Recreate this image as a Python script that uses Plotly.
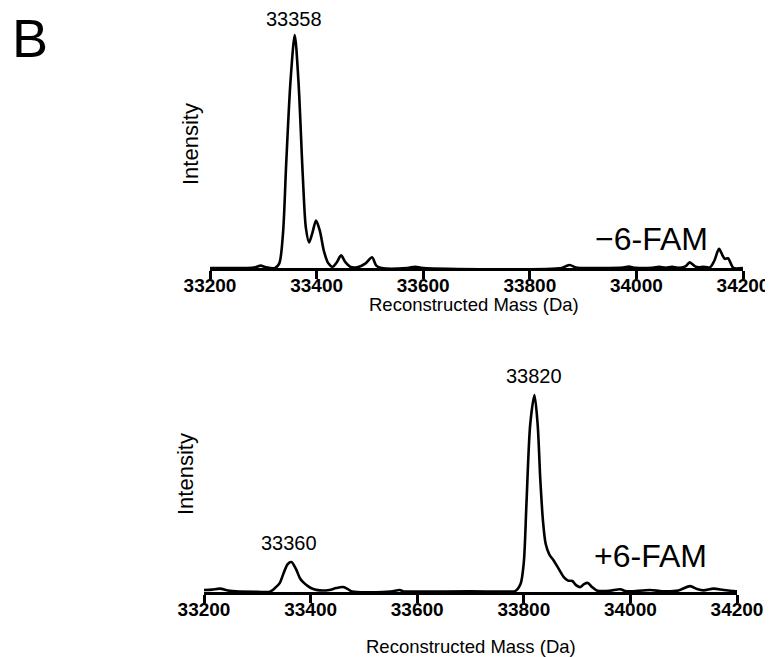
import plotly.graph_objects as go

# ---------------- data ----------------
mass_minus = [33200, 33270, 33285, 33295, 33305, 33322, 33330, 33337, 33343, 33351,
              33359, 33366, 33374, 33380, 33386, 33392, 33399, 33406, 33414, 33422,
              33430, 33438, 33446, 33454, 33464, 33476, 33492, 33504, 33512, 33522,
              33570, 33585, 33600, 33860, 33868, 33875, 33885, 33895, 33975, 33986,
              33998, 34030, 34043, 34055, 34067, 34078, 34092, 34100, 34110, 34118,
              34125, 34138, 34146, 34155, 34162, 34166, 34172, 34177, 34182, 34200]
int_minus = [0, 0, 0.3, 1.0, 0.3, 0, 2, 15, 45, 80,
             100, 80, 40, 17, 11, 15, 20.4, 16, 7, 2,
             0.5, 2.5, 5.4, 2.5, 0.4, 0.3, 2, 4.6, 1, 0,
             0, 0.5, 0, 0, 0.8, 1.3, 0.3, 0, 0.2, 0.6,
             0.1, 0.1, 0.5, 0.1, 0.5, 0.1, 0.7, 2.4, 0.7, 0.3,
             0.5, 0.3, 3, 8.2, 5.2, 3.9, 4.2, 2, 0, 0]

mass_plus = [33200, 33215, 33230, 33245, 33260, 33300, 33324, 33335, 33342, 33350,
             33357, 33364, 33372, 33380, 33386, 33395, 33405, 33417, 33435, 33448,
             33461, 33470, 33478, 33550, 33567, 33575, 33600, 33700, 33770, 33784,
             33794, 33800, 33805, 33812, 33820, 33826, 33831, 33836, 33841, 33848,
             33856, 33865, 33875, 33883, 33891, 33898, 33906, 33913, 33920, 33928,
             33937, 33960, 33981, 33990, 34000, 34037, 34060, 34090, 34112, 34125,
             34137, 34156, 34175, 34194, 34200]
int_plus = [1.0, 1.2, 1.7, 0.8, 0.3, 0.1, 0.2, 2.5, 4.5, 10,
            14.2, 15.2, 12, 7, 5, 3, 1.5, 0.8, 1, 2,
            2.5, 1.5, 0.2, 0.2, 1, 0.3, 0.2, 0.3, 0.2, 0.5,
            4.2, 15, 45, 85, 100, 85, 57, 36, 24.5, 19,
            16, 12, 7.6, 5.8, 5.6, 3.5, 2.5, 4, 4.6, 2.5,
            0.8, 0.6, 1.4, 0.5, 0.3, 1, 0.4, 0.8, 3, 1.5,
            0.8, 1.7, 1, 0.5, 0.3]

tick_vals = [33200, 33400, 33600, 33800, 34000, 34200]
tick_text = ["33200", "33400", "33600", "33800", "34000", "34200"]

peak_labels_top = [("33358", 33358, 100)]
peak_labels_bottom = [("33360", 33360, 15.2), ("33820", 33820, 100)]

# ---------------- figure ----------------
OFF = 8            # page body margin of the browser
W, H = 773 - OFF, 657 - OFF
FONT = "Liberation Sans, Arial, Helvetica, sans-serif"


def px_x(p):
    return (p - OFF) / W


def px_y(p):
    return 1 - (p - OFF) / H


fig = go.Figure()
fig.add_trace(go.Scatter(x=mass_minus, y=int_minus, mode="lines",
                         line=dict(color="black", width=2.6, shape="spline", smoothing=0.8),
                         xaxis="x", yaxis="y", showlegend=False, hoverinfo="skip"))
fig.add_trace(go.Scatter(x=mass_plus, y=int_plus, mode="lines",
                         line=dict(color="black", width=2.6, shape="spline", smoothing=0.8),
                         xaxis="x2", yaxis="y2", showlegend=False, hoverinfo="skip"))

xcommon = dict(range=[33200, 34200], showline=True, linecolor="black", linewidth=2.6,
               ticks="outside", ticklen=8, tickwidth=2.6, tickcolor="black",
               tickvals=tick_vals, ticktext=tick_text, showgrid=False, zeroline=False,
               tickfont=dict(family=FONT, size=19, color="black", weight="bold"),
               ticklabelstandoff=-10,
               automargin=False, fixedrange=True)
ycommon = dict(visible=False, showgrid=False, zeroline=False, automargin=False, fixedrange=True)

fig.update_layout(
    width=W, height=H,
    margin=dict(l=0, r=0, t=0, b=0),
    paper_bgcolor="white", plot_bgcolor="white",
    xaxis=dict(domain=[px_x(210), px_x(743)], anchor="y", **xcommon),
    yaxis=dict(domain=[px_y(268), px_y(25)], range=[0, 104.3], anchor="x", **ycommon),
    xaxis2=dict(domain=[px_x(204), px_x(737)], anchor="y2", **xcommon),
    yaxis2=dict(domain=[px_y(592), px_y(360)], range=[0, 117.8], anchor="x2", **ycommon),
    font=dict(family=FONT, color="black"),
)

ann = []
# Panel letter
ann.append(dict(text="B", x=px_x(10), y=px_y(38), xref="paper", yref="paper",
                xanchor="left", yanchor="middle", showarrow=False,
                font=dict(family=FONT, size=54, color="black")))
# Y-axis titles
ann.append(dict(text="Intensity", x=px_x(190), y=px_y(144), xref="paper", yref="paper",
                textangle=-90, xanchor="center", yanchor="middle", showarrow=False,
                font=dict(family=FONT, size=22, color="black")))
ann.append(dict(text="Intensity", x=px_x(185), y=px_y(474), xref="paper", yref="paper",
                textangle=-90, xanchor="center", yanchor="middle", showarrow=False,
                font=dict(family=FONT, size=22, color="black")))
# X-axis titles
ann.append(dict(text="Reconstructed Mass (Da)", x=px_x(474), y=px_y(304), xref="paper", yref="paper",
                xanchor="center", yanchor="middle", showarrow=False,
                font=dict(family=FONT, size=18.5, color="black")))
ann.append(dict(text="Reconstructed Mass (Da)", x=px_x(471), y=px_y(646), xref="paper", yref="paper",
                xanchor="center", yanchor="middle", showarrow=False,
                font=dict(family=FONT, size=18.5, color="black")))
# Sample labels
ann.append(dict(text="\u22126-FAM", x=px_x(651), y=px_y(239), xref="paper", yref="paper",
                xanchor="center", yanchor="middle", showarrow=False,
                font=dict(family=FONT, size=32, color="black")))
ann.append(dict(text="+6-FAM", x=px_x(650), y=px_y(556), xref="paper", yref="paper",
                xanchor="center", yanchor="middle", showarrow=False,
                font=dict(family=FONT, size=32, color="black")))
# Peak labels
for txt, xv, yv in peak_labels_top:
    ann.append(dict(text=txt, x=xv, y=yv, xref="x", yref="y", xanchor="center",
                    yanchor="bottom", yshift=3, showarrow=False,
                    font=dict(family=FONT, size=20, color="black")))
for txt, xv, yv in peak_labels_bottom:
    ann.append(dict(text=txt, x=xv, y=yv, xref="x2", yref="y2", xanchor="center",
                    yanchor="bottom", yshift=6, showarrow=False,
                    font=dict(family=FONT, size=20, color="black")))

fig.update_layout(annotations=ann)
fig.write_html("out.html")
